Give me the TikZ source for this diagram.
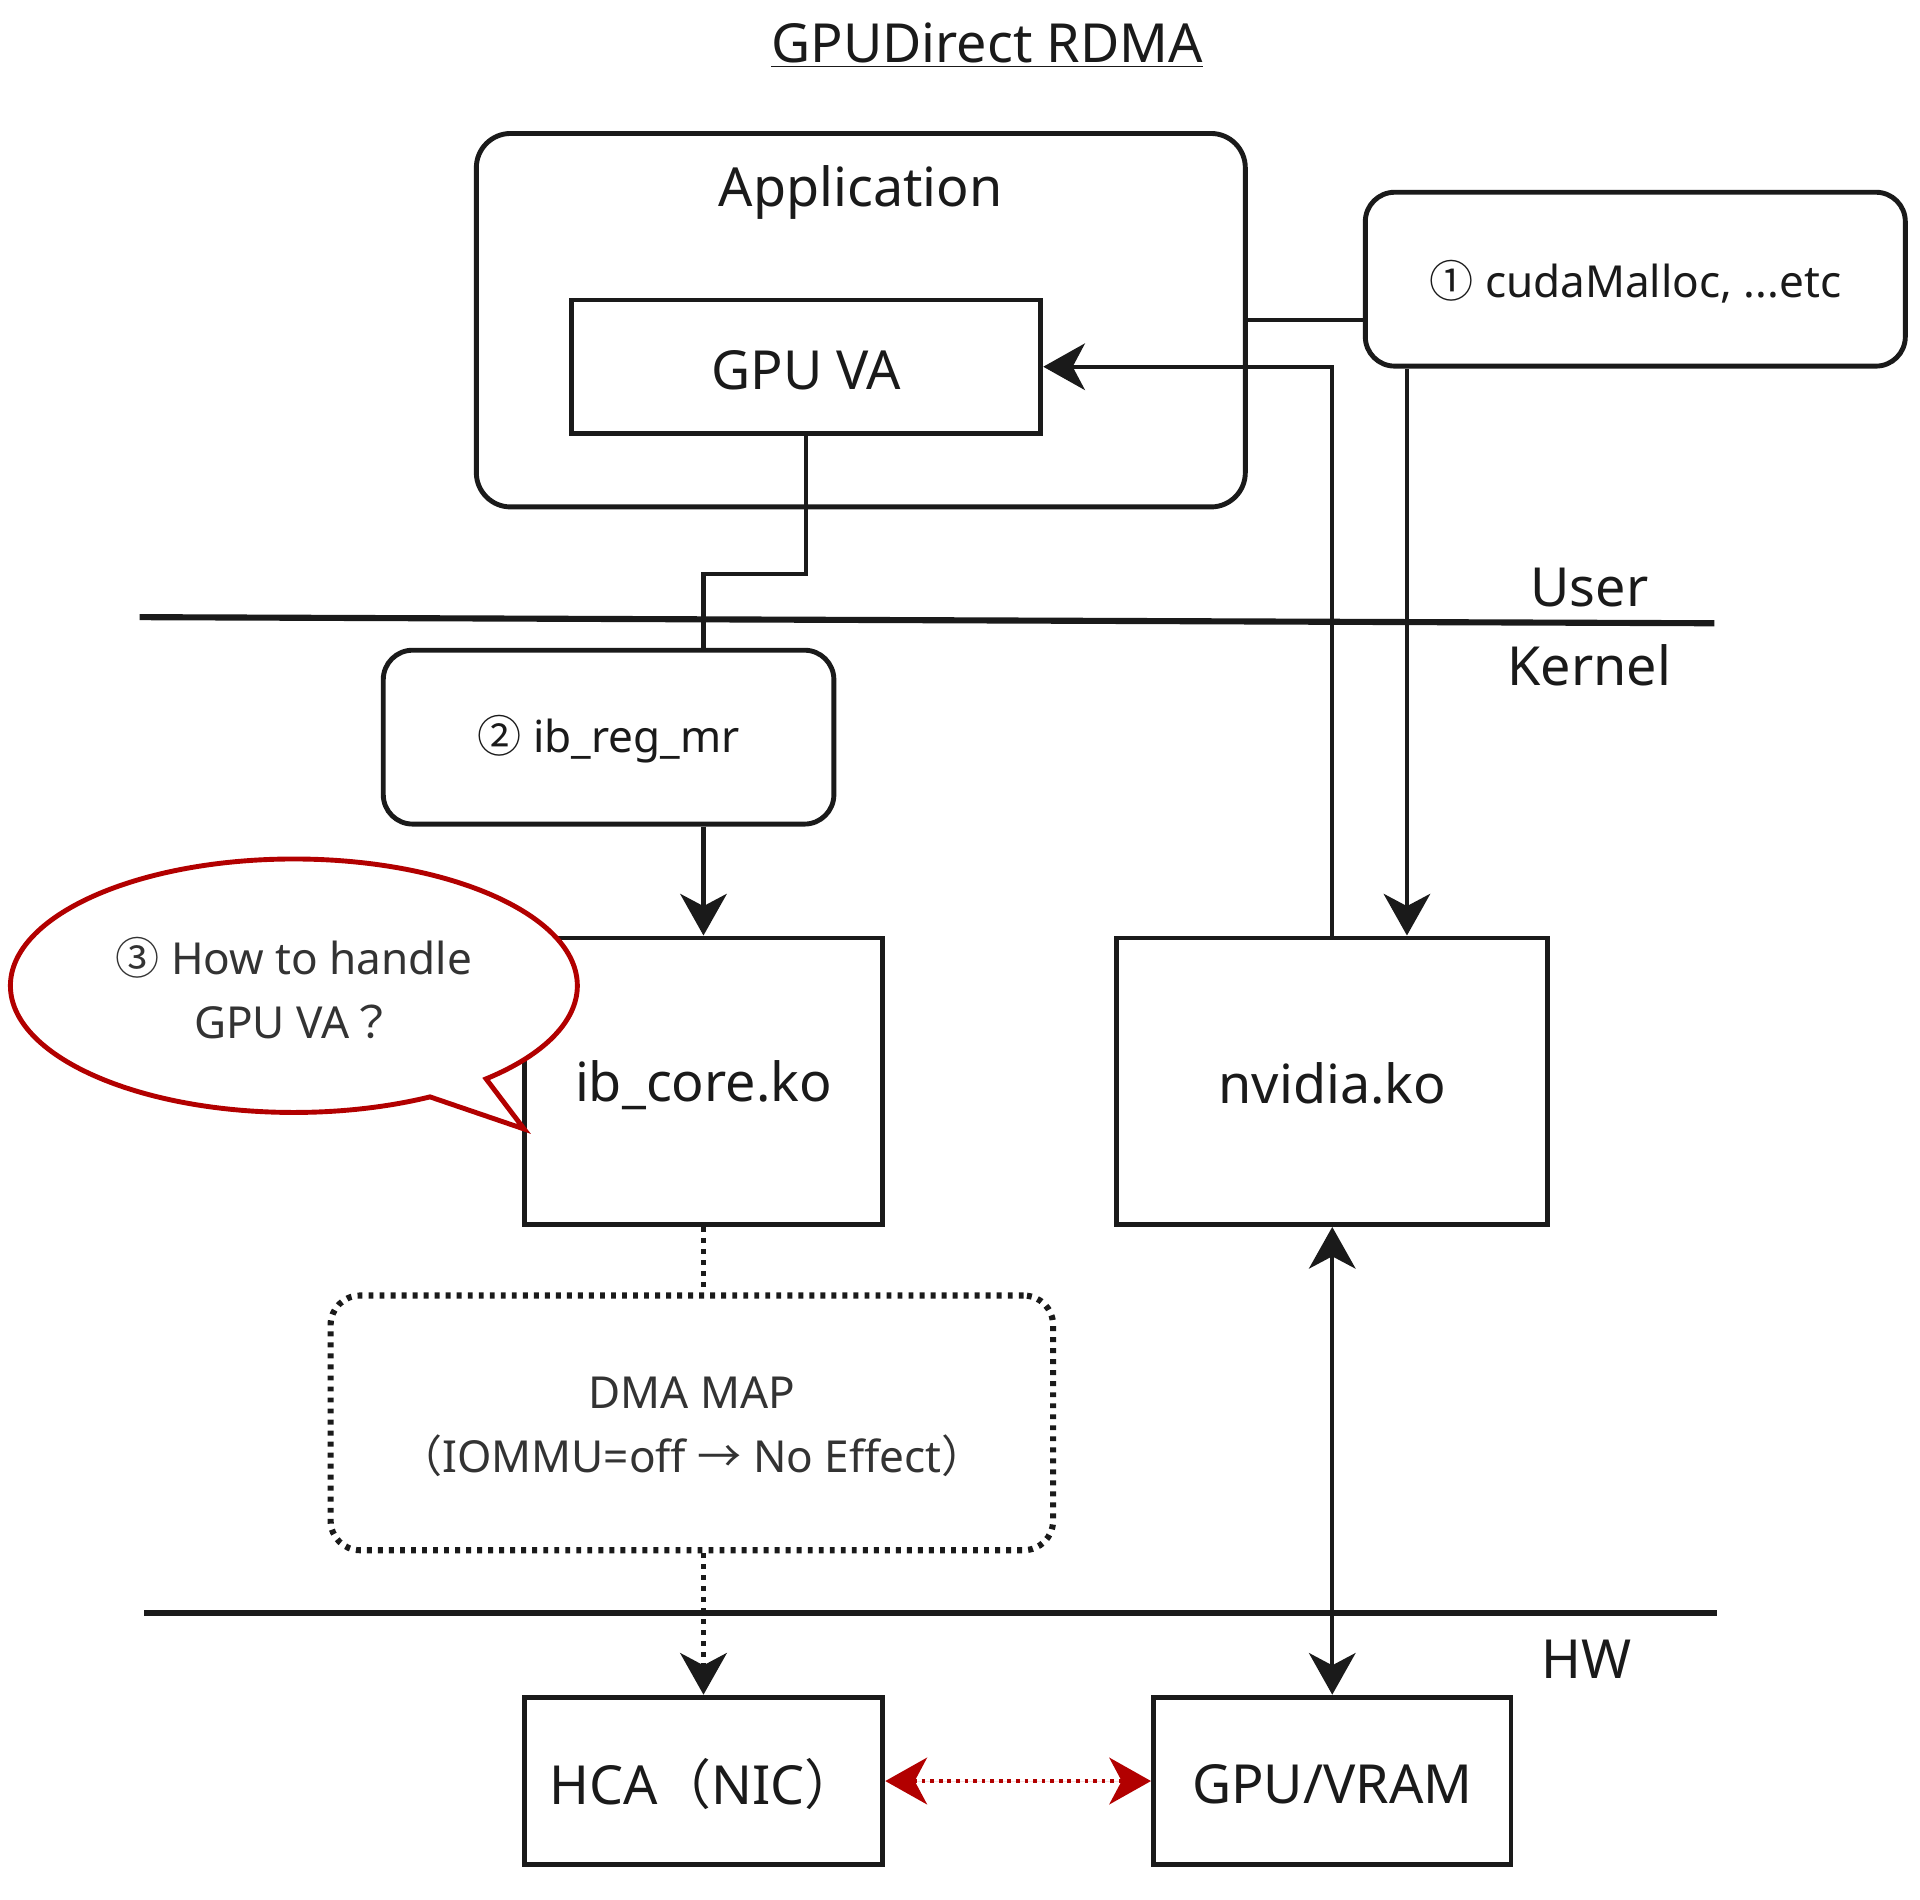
\documentclass[tikz,border=0pt]{standalone}
\usepackage{fontspec}
\setmainfont{Noto Sans}
\newfontfamily\cjk{Noto Sans CJK JP}
\usetikzlibrary{arrows.meta,shapes.callouts,calc}
\definecolor{ink}{HTML}{1A1A1A}
\definecolor{txtgray}{HTML}{333333}
\definecolor{redc}{HTML}{B20000}
\tikzset{
  box/.style={draw=ink, line width=2pt, fill=white, inner sep=0pt},
  rbox/.style={box, rounded corners=12pt},
  conn/.style={draw=ink, line width=1.7pt},
  tip/.style={-{Stealth[length=17pt,width=19pt,inset=5pt]}},
  dtip/.style={{Stealth[length=17pt,width=19pt,inset=5pt]}-{Stealth[length=17pt,width=19pt,inset=5pt]}},
  dots/.style={dash pattern=on 2pt off 2.5pt},
  big/.style={font=\fontsize{22}{26}\selectfont, text=ink},
  small/.style={font=\fontsize{18}{22}\selectfont, text=txtgray},
}
\begin{document}
\begin{tikzpicture}[x=0.5pt,y=-0.5pt]
\useasboundingbox (0,0) rectangle (1568,1551);
% title
\node[big] (title) at (806,37) {\underline{GPUDirect RDMA}};
% application
\node[rbox, minimum width=314pt, minimum height=152.5pt, rounded corners=14pt] (app) at (703,261.5) {};
\node[big] (applbl) at (703,157) {Application};
\node[box, minimum width=191.5pt, minimum height=54.5pt] (gpuva) at (658.5,299.5) {};
\node[big] (gpuvalbl) at (658.5,302) {GPU VA};
% cuda
\node[rbox, minimum width=220.5pt, minimum height=71pt] (cuda) at (1335.5,228) {};
\node[small, text=ink] (cudalbl) at (1335.5,230) {{\cjk ①} cudaMalloc, ...etc};
% separators
\coordinate (u1) at (114,504);
\coordinate (u2) at (1400,509);
\draw[draw=ink, line width=2.5pt] (u1) -- (u2);
\node[big] (user) at (1298,480) {User};
\node[big] (kernel) at (1298,543) {Kernel};
\coordinate (h1) at (118,1317);
\coordinate (h2) at (1402,1317);
\draw[draw=ink, line width=2.5pt] (h1) -- (h2);
\node[big] (hw) at (1296,1355) {HW};
% kernel boxes
\node[rbox, minimum width=184pt, minimum height=71pt] (ibreg) at (497,602) {};
\node[small, text=ink] (ibreglbl) at (497,604) {{\cjk ②} ib\_reg\_mr};
\node[box, minimum width=146.5pt, minimum height=117pt] (ibcore) at (574.5,883) {};
\node[big] (ibcorelbl) at (574.5,886) {ib\_core.ko};
\node[box, minimum width=176pt, minimum height=117pt] (nvidia) at (1088,883) {};
\node[big] (nvidialbl) at (1088,885) {nvidia.ko};
% dma map
\node[draw=ink, line width=2.5pt, dots, rounded corners=12pt, minimum width=295pt, minimum height=104pt] (dma) at (565,1162) {};
\node[small, align=center] (dmalbl) at (565,1165) {DMA MAP\\[4pt]{\cjk （}IOMMU=off {\cjk →} No Effect{\cjk ）}};
% hw boxes
\node[box, minimum width=146.5pt, minimum height=68.5pt] (hca) at (574.5,1454.5) {};
\node[big] (hcalbl) at (575,1457) {HCA{\cjk （}NIC{\cjk ）}};
\node[box, minimum width=146pt, minimum height=68.5pt] (gpu) at (1088,1454.5) {};
\node[big] (gpulbl) at (1088,1457) {GPU/VRAM};
% connectors
\draw[conn] (app.east) -- (app.east -| cuda.west);
\draw[conn, tip] (nvidia.north) -- (nvidia.north |- gpuva.east) -- (gpuva.east);
\coordinate (xc) at (1149,0);
\draw[conn, tip] (cuda.south -| xc) -- (nvidia.north -| xc);
\draw[conn] (gpuva.south) -- ++(0,113) -| (ibreg.north -| ibcore.north);
\draw[conn, tip] (ibreg.south -| ibcore.north) -- (ibcore.north);
\draw[conn, line width=2pt, dots] (ibcore.south) -- (ibcore.south |- dma.north);
\draw[conn, line width=2pt, dots, tip] (dma.south -| hca.north) -- (hca.north);
\draw[conn, dtip] (nvidia.south) -- (gpu.north);
\draw[draw=redc, fill=redc, line width=2pt, dash pattern=on 1.5pt off 2pt, dtip] (hca.east) -- (gpu.west);
% callout
\node[ellipse callout, draw=redc, line width=2pt, fill=white, minimum width=231.5pt, minimum height=103.5pt, callout absolute pointer={(428,922)}, callout pointer arc=14] (callout) at (240,805) {};
\node[small, align=center] (calloutlbl) at (240,807) {{\cjk ③} How to handle\\[4pt]GPU VA{\cjk ？}};
\end{tikzpicture}
\end{document}
